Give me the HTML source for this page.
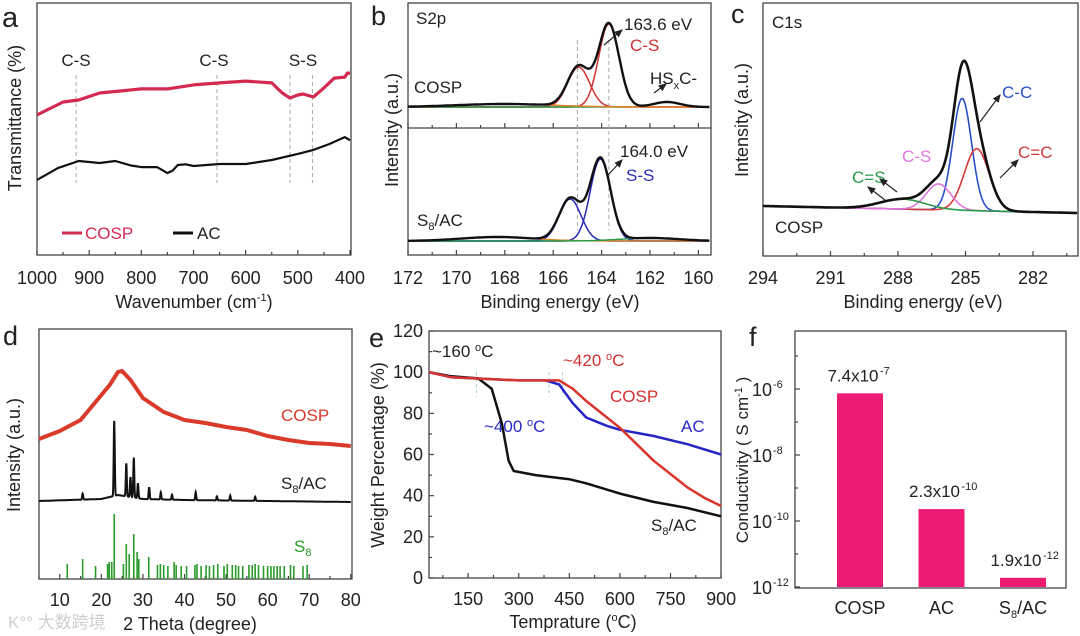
<!DOCTYPE html>
<html><head><meta charset="utf-8">
<style>
html,body{margin:0;padding:0;background:#fff;}
svg{display:block;font-family:"Liberation Sans",Arial,sans-serif;}
text{fill:#222;}
</style></head>
<body>
<svg id="fig" width="1080" height="636" viewBox="0 0 1080 636" xmlns="http://www.w3.org/2000/svg">
<text x="2" y="27" font-size="29">a</text>
<text x="371" y="25" font-size="27">b</text>
<text x="731" y="23" font-size="27">c</text>
<text x="3" y="345" font-size="27">d</text>
<text x="369" y="347" font-size="27">e</text>
<text x="749" y="346" font-size="27">f</text>

<text transform="translate(21,118) rotate(-90)" text-anchor="middle" font-size="18">Transmittance (%)</text>
<text x="194" y="308" text-anchor="middle" font-size="18">Wavenumber (cm<tspan font-size="11" dy="-7">-1</tspan><tspan dy="7">)</tspan></text>
<text x="76" y="66" text-anchor="middle" font-size="17">C-S</text>
<text x="214" y="66" text-anchor="middle" font-size="17">C-S</text>
<text x="303" y="66" text-anchor="middle" font-size="17">S-S</text>
<line x1="62" y1="233" x2="82" y2="233" stroke="#d42a52" stroke-width="3"/>
<text x="85" y="239" font-size="17" style="fill:#d42a52">COSP</text>
<line x1="173" y1="233" x2="193" y2="233" stroke="#111" stroke-width="3"/>
<text x="197" y="239" font-size="17">AC</text>

<text transform="translate(398,130) rotate(-90)" text-anchor="middle" font-size="18">Intensity (a.u.)</text>
<text x="560" y="308" text-anchor="middle" font-size="18">Binding energy (eV)</text>
<text x="416" y="24" font-size="17">S2p</text>
<text x="414" y="93" font-size="17">COSP</text>
<text x="417" y="226" font-size="17">S<tspan font-size="11" dy="4">8</tspan><tspan dy="-4">/AC</tspan></text>
<text x="624" y="30" font-size="17">163.6 eV</text>
<text x="630" y="51" font-size="17" style="fill:#d03030">C-S</text>
<text x="650" y="84" font-size="17">HS<tspan font-size="11" dy="5">x</tspan><tspan dy="-5">C-</tspan></text>
<text x="620" y="157" font-size="17">164.0 eV</text>
<text x="626" y="181" font-size="17" style="fill:#2a2ab8">S-S</text>

<text transform="translate(748,120) rotate(-90)" text-anchor="middle" font-size="18">Intensity (a.u.)</text>
<text x="923" y="308" text-anchor="middle" font-size="18">Binding energy (eV)</text>
<text x="772" y="28" font-size="17">C1s</text>
<text x="775" y="233" font-size="17">COSP</text>
<text x="1002" y="98" font-size="17" style="fill:#2a4fc8">C-C</text>
<text x="1018" y="158" font-size="17" style="fill:#d03a3a">C=C</text>
<text x="902" y="162" font-size="17" style="fill:#dd77dd">C-S</text>
<text x="852" y="183" font-size="17" style="fill:#2a9a4a">C=S</text>

<text transform="translate(20,455) rotate(-90)" text-anchor="middle" font-size="18">Intensity (a.u.)</text>
<text x="190" y="630" text-anchor="middle" font-size="18">2 Theta (degree)</text>
<text x="8" y="628" font-size="17" style="fill:#cfcfcf;font-family:'Liberation Sans','Noto Sans CJK SC',sans-serif">K°° 大数跨境</text>
<text x="281" y="421" font-size="17" style="fill:#d93a2a">COSP</text>
<text x="281" y="489" font-size="17">S<tspan font-size="11" dy="4">8</tspan><tspan dy="-4">/AC</tspan></text>
<text x="294" y="552" font-size="17" style="fill:#2a9a2a">S<tspan font-size="11" dy="4">8</tspan></text>

<text transform="translate(384,455) rotate(-90)" text-anchor="middle" font-size="18">Weight Percentage (%)</text>
<text x="573" y="628" text-anchor="middle" font-size="18">Temprature (<tspan font-size="11" dy="-7">o</tspan><tspan dy="7">C)</tspan></text>
<text x="432" y="357" font-size="17">~160 <tspan font-size="11" dy="-6">o</tspan><tspan dy="6">C</tspan></text>
<text x="563" y="366" font-size="17" style="fill:#d43030">~420 <tspan font-size="11" dy="-6" style="fill:#d43030">o</tspan><tspan dy="6" style="fill:#d43030">C</tspan></text>
<text x="610" y="402" font-size="17" style="fill:#d43030">COSP</text>
<text x="484" y="432" font-size="17" style="fill:#2a2ac8">~400 <tspan font-size="11" dy="-6" style="fill:#2a2ac8">o</tspan><tspan dy="6" style="fill:#2a2ac8">C</tspan></text>
<text x="681" y="432" font-size="17" style="fill:#2a2ac8">AC</text>
<text x="651" y="531" font-size="17">S<tspan font-size="11" dy="4">8</tspan><tspan dy="-4">/AC</tspan></text>

<text transform="translate(748,460) rotate(-90)" text-anchor="middle" font-size="17">Conductivity ( S cm<tspan font-size="11" dy="-6">-1</tspan><tspan dy="6"> )</tspan></text>
<g id="layer"></g>
</svg>
<script>
// ---------- data ----------
const ftirWave = [1000,950,920,880,800,750,700,650,600,550,530,515,500,490,470,450,430,410,405,400];
const ftirCOSP = [55.6,60.7,61.5,64.3,65.9,65.9,67.5,68.3,69.0,68.3,64.3,62.3,63.5,63.9,62.7,66.3,70.2,70.6,72.2,72.2];
const ftirACWave = [1000,960,920,880,850,820,800,770,750,740,730,715,700,650,600,550,500,470,440,410,400];
const ftirAC = [29.8,34.5,37.3,36.5,37.3,35.5,34.9,34.9,32.5,33.5,35.7,36.0,35.3,36.1,36.1,37.7,40.1,41.7,44.0,46.8,45.5];
const ftirMarks = [925,655,515,472];

const s2pTopCenters = [163.7,164.95,161.3,168.0];
const s2pTopHeights = [83,40,5,3];
const s2pTopSigmas = [0.42,0.45,0.55,2.0];
const s2pTopColors = ['#d43030','#d43030','#2a9a4a','#e0862a'];
const s2pBotCenters = [164.05,165.3,168.3,162.0];
const s2pBotHeights = [82,42,4,3];
const s2pBotSigmas = [0.42,0.45,1.5,1.2];
const s2pBotColors = ['#2a2ab8','#2a2ab8','#e0862a','#2a9a4a'];

const c1sCenters = [285.15,284.5,286.2,287.8];
const c1sHeights = [112,62,26,10];
const c1sSigmas = [0.42,0.55,0.55,1.0];
const c1sColors = ['#2a4fc8','#d43a3a','#dd77dd','#2a9a4a'];

const xrdTheta = [5,10,15,20,22,24,25,27,30,35,40,45,50,55,60,65,70,75,80];
const xrdCOSP = [140,148,159,184,194,207,208,199,181,167,159,156,152,149,143,139,136,135,133];
const s8acBaseTheta = [5,20,22,24,30,40,60,80];
const s8acBase = [78,80,82,84,80,79,78,77];
const s8acPeakPos = [15.5,23.1,26.0,27.0,27.8,28.8,31.5,34.3,37.0,42.7,47.8,51.0,57.0];
const s8acPeakH = [6,75,33,20,40,15,12,7,5,8,4,5,4];
const s8StickPos = [11.8,15.5,18.6,21.5,21.9,22.5,23.1,25.3,26.0,26.7,27.8,28.6,29.0,31.4,33.5,34.2,35.0,36.0,37.5,38.0,39.2,40.5,42.5,43.0,44.0,45.2,46.0,47.0,48.0,49.5,50.3,51.5,52.3,53.0,54.0,55.5,56.3,57.0,57.8,59.0,60.0,60.8,61.5,62.3,63.0,64.0,65.5,66.3,68.5,69.5];
const s8StickH = [15,20,13,15,17,17,65,15,35,25,45,27,20,22,14,15,14,13,17,14,13,13,14,15,13,14,13,14,15,13,15,14,14,13,13,14,14,15,14,13,13,13,13,13,13,13,14,13,13,14];

const tgaT_S8AC = [34,100,180,220,250,270,285,350,450,500,600,700,800,900];
const tgaS8AC = [100,98,97,92,75,57,52,50,48,46,41,37,34,30];
const tgaT_AC = [34,100,300,380,420,460,500,560,600,700,800,900];
const tgaAC = [100,97.5,96,96,94,85,78,74,72,69,65,60];
const tgaT_COSP = [34,100,300,420,460,500,600,700,800,850,900];
const tgaCOSP = [100,97.5,96,96,92,86,73,57,44,39,35];
const tgaMarks = [175,390,430];

const condCats = ['COSP','AC','S8/AC'];
const condVals = [7.4e-7,2.3e-10,1.9e-12];
const condLabels = ['7.4x10','2.3x10','1.9x10'];
const condExps = ['-7','-10','-12'];

// ---------- scales ----------
const ax = w => 37 + (1000 - w) / 600 * 313;
const ay = T => 255 - T * 2.52;
const bx = e => 408 + (172 - e) * 24.2;
const cx = e => 763 + (294 - e) * 22.5;
const cBase = e => 206 + (294 - e) / 14 * 7;
const dx = t => 39 + (t - 5) * 4.157;
const dy = I => 579 - I;
const ex = T => 429 + (T - 34) * 0.3373;
const ey = p => 578 - p * 2.058;
const fy = v => 587 - (Math.log10(v) + 12) * 33;

const NS = 'http://www.w3.org/2000/svg';
const layer = document.getElementById('layer');
function mk(tag, attrs, txt) {
  const el = document.createElementNS(NS, tag);
  for (const k in attrs) el.setAttribute(k, attrs[k]);
  if (txt !== undefined) el.textContent = txt;
  layer.appendChild(el);
  return el;
}
function pts(xs, ys, fx, fy2) { return xs.map((x, i) => fx(x).toFixed(1) + ',' + fy2(ys[i]).toFixed(1)).join(' '); }
function gauss(e, c, h, s) { return h * Math.exp(-0.5 * ((e - c) / s) ** 2); }

const frames = [[37,3,351,255,'a'],[408,3,711,255,'b'],[763,3,1078,256,'c'],[39,329,352,579,'d'],[429,331,721,578,'e'],[795,331,1066,588,'f']];
for (const f of frames) {
  const r = mk('rect', {x:f[0], y:f[1], width:f[2]-f[0], height:f[3]-f[1], fill:'none', stroke:'#444', 'stroke-width':1.3});
  
  
}
const div = mk('line', {x1:408, y1:128, x2:711, y2:128, stroke:'#444', 'stroke-width':1.3});



function xTick(x, y0, len, label, ly, name) {
  const t = mk('line', {x1:x, y1:y0, x2:x, y2:y0 - len, stroke:'#444', 'stroke-width':1.2});
  
  
  if (label !== null) {
    const tx = mk('text', {x:x, y:ly, 'text-anchor':'middle', 'font-size':18}, label);
    
    
  }
}
for (let w = 1000; w >= 400; w -= 50) xTick(ax(w), 255, w % 100 ? 3 : 5, w % 100 ? null : String(w), 284, 'a-x');
for (let e = 172; e >= 160; e -= 1) { xTick(bx(e), 255, e % 2 ? 3 : 5, e % 2 ? null : String(e), 284, 'b-x'); xTick(bx(e), 128, e % 2 ? 3 : 5, null, 0, 'b-mid'); }
for (let e = 294; e >= 280; e -= 1.5) xTick(cx(e), 256, (e % 3) ? 3 : 5, (e % 3) ? null : String(e), 284, 'c-x');
for (let t = 5; t <= 80; t += 5) xTick(dx(t), 579, t % 10 ? 3 : 5, t % 10 ? null : String(t), 606, 'd-x');
for (let T = 75; T <= 900; T += 75) xTick(ex(T), 578, T % 150 ? 3 : 5, T % 150 ? null : String(T), 605, 'e-x');
for (let p = 0; p <= 120; p += 10) {
  const t = mk('line', {x1:429, y1:ey(p), x2:p % 20 ? 432 : 434, y2:ey(p), stroke:'#444', 'stroke-width':1.2});
  
  
  if (p % 20 === 0) {
    const tx = mk('text', {x:423, y:ey(p) + 6, 'text-anchor':'end', 'font-size':18}, String(p));
    
    
  }
}
for (let k = -12; k <= -5; k++) {
  const y = fy(Math.pow(10, k));
  const t = mk('line', {x1:795, y1:y, x2:k % 2 ? 798 : 800, y2:y, stroke:'#444', 'stroke-width':1.2});
  
  
  if (k % 2 === 0 && k <= -6) {
    const tx = mk('text', {x:772, y:y + 7, 'text-anchor':'end', 'font-size':18}, '10');
    
    
    const ts = mk('text', {x:773, y:y - 1, 'font-size':11}, String(k));
    
    
  }
}

// panel a
for (const w of ftirMarks) {
  const l = mk('line', {x1:ax(w), y1:75, x2:ax(w), y2:183, stroke:'#aaa', 'stroke-width':1, 'stroke-dasharray':'4,3'});
  
  
}
const aRed = mk('polyline', {points:pts(ftirWave, ftirCOSP, ax, ay), fill:'none', stroke:'#d42a52', 'stroke-width':3.2, 'stroke-linejoin':'round'});


const aBlk = mk('polyline', {points:pts(ftirACWave, ftirAC, ax, ay), fill:'none', stroke:'#111', 'stroke-width':2.2, 'stroke-linejoin':'round'});



// panel b
function xpsPanel(centers, heights, sigmas, colors, base, name) {
  const es = [];
  for (let e = 172; e >= 159.5; e -= 0.05) es.push(e);
  for (let i = 0; i < centers.length; i++) {
    const p = mk('polyline', {points:es.map(e => bx(e).toFixed(1) + ',' + (base - gauss(e, centers[i], heights[i], sigmas[i])).toFixed(1)).join(' '), fill:'none', stroke:colors[i], 'stroke-width':1.5});
    
    
  }
  const env = mk('polyline', {points:es.map(e => { let s = 0; for (let i = 0; i < centers.length; i++) s += gauss(e, centers[i], heights[i], sigmas[i]); return bx(e).toFixed(1) + ',' + (base - s).toFixed(1); }).join(' '), fill:'none', stroke:'#111', 'stroke-width':2.4});
  
  
}
for (const e of [165.0, 163.7]) {
  const l = mk('line', {x1:bx(e), y1:40, x2:bx(e), y2:230, stroke:'#aaa', 'stroke-width':1, 'stroke-dasharray':'4,3'});
  
  
}
xpsPanel(s2pTopCenters, s2pTopHeights, s2pTopSigmas, s2pTopColors, 107, 'b-cosp');
xpsPanel(s2pBotCenters, s2pBotHeights, s2pBotSigmas, s2pBotColors, 241, 'b-s8ac');
const arrows = [[604,45,622,30],[654,93,666,84],[608,175,622,160],[980,122,1000,95],[1000,178,1018,160],[897,192,880,179],[885,200,868,187]];
const arrowNames = ['b-arrow-163','b-arrow-hsxc','b-arrow-164','c-arrow-cc','c-arrow-c=c','c-arrow-cs','c-arrow-c=s'];
const defs = document.createElementNS(NS, 'defs');
defs.innerHTML = '<marker id="ah" markerWidth="8" markerHeight="8" refX="6" refY="3" orient="auto"><path d="M0,0 L7,3 L0,6 z" fill="#222"/></marker>';
document.getElementById('fig').insertBefore(defs, layer);
arrows.forEach((a, i) => {
  const l = mk('line', {x1:a[0], y1:a[1], x2:a[2], y2:a[3], stroke:'#222', 'stroke-width':1.2, 'marker-end':'url(#ah)'});
  
  
});

// panel c
{
  const es = [];
  for (let e = 294; e >= 280; e -= 0.04) es.push(e);
  for (let i = 0; i < c1sCenters.length; i++) {
    const p = mk('polyline', {points:es.map(e => cx(e).toFixed(1) + ',' + (cBase(e) - gauss(e, c1sCenters[i], c1sHeights[i], c1sSigmas[i])).toFixed(1)).join(' '), fill:'none', stroke:c1sColors[i], 'stroke-width':1.6});
    
    
  }
  const env = mk('polyline', {points:es.map(e => { let s = 0; for (let i = 0; i < c1sCenters.length; i++) s += gauss(e, c1sCenters[i], c1sHeights[i], c1sSigmas[i]); return cx(e).toFixed(1) + ',' + (cBase(e) - s).toFixed(1); }).join(' '), fill:'none', stroke:'#111', 'stroke-width':2.6});
  
  
}

// panel d
const dRed = mk('polyline', {points:pts(xrdTheta, xrdCOSP, dx, dy), fill:'none', stroke:'#d93a2a', 'stroke-width':4, 'stroke-linejoin':'round'});


{
  const ts = [];
  for (let t = 5; t <= 80; t += 0.05) ts.push(t);
  const baseAt = t => { for (let i = 1; i < s8acBaseTheta.length; i++) if (t <= s8acBaseTheta[i]) { const f = (t - s8acBaseTheta[i-1]) / (s8acBaseTheta[i] - s8acBaseTheta[i-1]); return s8acBase[i-1] + f * (s8acBase[i] - s8acBase[i-1]); } return s8acBase[s8acBase.length - 1]; };
  const p = mk('polyline', {points:ts.map(t => { let s = baseAt(t); for (let i = 0; i < s8acPeakPos.length; i++) s += gauss(t, s8acPeakPos[i], s8acPeakH[i], 0.12); return dx(t).toFixed(1) + ',' + dy(s).toFixed(1); }).join(' '), fill:'none', stroke:'#111', 'stroke-width':2});
  
  
}
for (let i = 0; i < s8StickPos.length; i++) {
  const l = mk('line', {x1:dx(s8StickPos[i]), y1:dy(0), x2:dx(s8StickPos[i]), y2:dy(s8StickH[i]), stroke:'#2a9a2a', 'stroke-width':1.6});
  
  
}

// panel e
for (const T of tgaMarks) {
  const l = mk('line', {x1:ex(T), y1:ey(100), x2:ex(T), y2:ey(88), stroke:'#9cc', 'stroke-width':1, 'stroke-dasharray':'3,3'});
  
  
}
const eK = mk('polyline', {points:pts(tgaT_S8AC, tgaS8AC, ex, ey), fill:'none', stroke:'#111', 'stroke-width':2.5, 'stroke-linejoin':'round'});


const eB = mk('polyline', {points:pts(tgaT_AC, tgaAC, ex, ey), fill:'none', stroke:'#2626c8', 'stroke-width':2.5, 'stroke-linejoin':'round'});


const eR = mk('polyline', {points:pts(tgaT_COSP, tgaCOSP, ex, ey), fill:'none', stroke:'#d9342b', 'stroke-width':2.5, 'stroke-linejoin':'round'});



// panel f
for (let i = 0; i < condCats.length; i++) {
  const cxm = 860 + i * 81.5;
  const b = mk('rect', {x:cxm - 23, y:fy(condVals[i]), width:46, height:587 - fy(condVals[i]), fill:'#ec1c74'});
  
  
  const v = mk('text', {x:cxm - 7, y:fy(condVals[i]) - 12, 'text-anchor':'middle', 'font-size':17}, condLabels[i]);
  
  
  const vs = mk('text', {x:cxm + 20, y:fy(condVals[i]) - 19, 'font-size':11}, condExps[i]);
  
  
  const c = mk('text', {x:cxm, y:614, 'text-anchor':'middle', 'font-size':18});
  
  
  if (condCats[i] === 'S8/AC') {
    c.innerHTML = 'S<tspan font-size="11" dy="4">8</tspan><tspan dy="-4">/AC</tspan>';
  } else {
    c.textContent = condCats[i];
  }
}
</script>
</body></html>
